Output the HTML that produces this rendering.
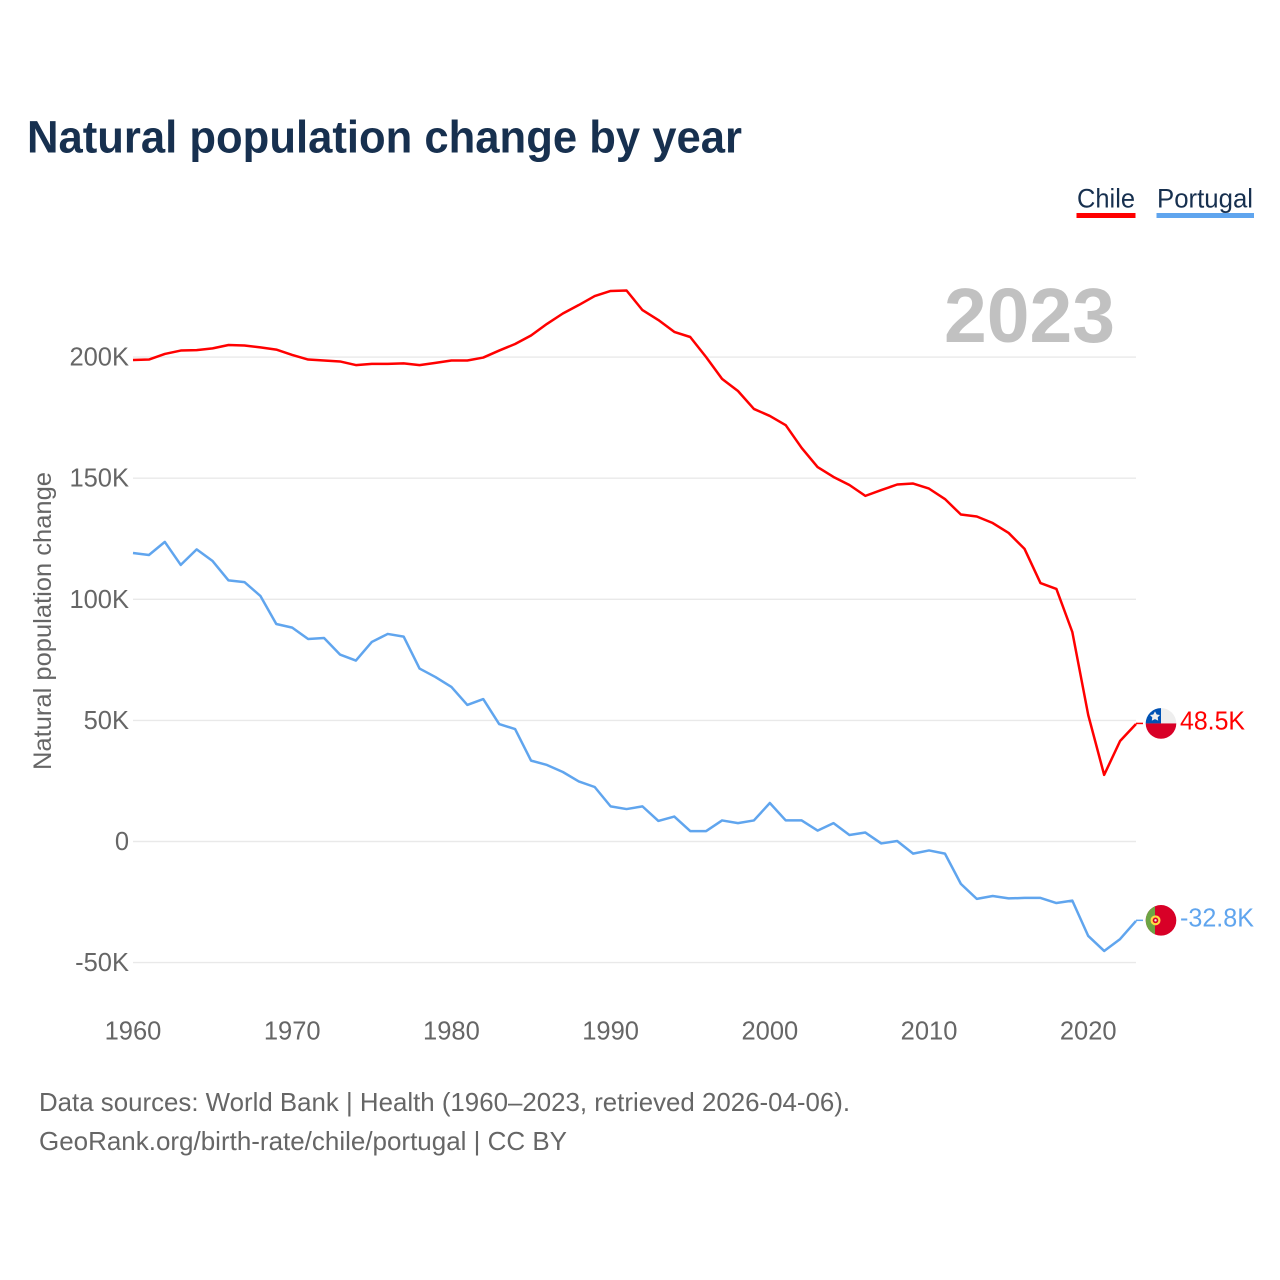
<!DOCTYPE html>
<html lang="en">
<head>
<meta charset="utf-8">
<title>Natural population change by year</title>
<style>
html,body{margin:0;padding:0;background:#fff;}
svg{display:block;font-family:"Liberation Sans",sans-serif;}
</style>
</head>
<body>
<svg id="chart" xmlns="http://www.w3.org/2000/svg" width="1280" height="1280" viewBox="0 0 1280 1280">
  <defs>
    <clipPath id="flag-clip-chile"><circle cx="0" cy="0" r="15.3"></circle></clipPath>
    <clipPath id="flag-clip-portugal"><circle cx="0" cy="0" r="15.3"></circle></clipPath>
  </defs>
  <text x="27" y="152.5" font-size="45" font-weight="700" fill="#17304f" textLength="715" lengthAdjust="spacingAndGlyphs">Natural population change by year</text>

  <g>
    <g>
      <text x="1077" y="207.5" font-size="26.5" fill="#17304f" textLength="58" lengthAdjust="spacingAndGlyphs">Chile</text>
      <rect x="1076.5" y="213" width="59" height="5" fill="#ff0000"></rect>
    </g>
    <g>
      <text x="1157" y="207.5" font-size="26.5" fill="#17304f" textLength="96" lengthAdjust="spacingAndGlyphs">Portugal</text>
      <rect x="1156.5" y="213" width="97.5" height="5" fill="#60a5ee"></rect>
    </g>
  </g>

  <g id="grid"></g>
  <text x="944" y="342" font-size="77" font-weight="700" fill="#c1c1c1" textLength="171" lengthAdjust="spacingAndGlyphs">2023</text>
  <g id="yticks"></g>
  <g id="xticks"></g>
  <text transform="translate(51,770) rotate(-90)" x="0" y="0" font-size="25" fill="#666666" textLength="298" lengthAdjust="spacingAndGlyphs">Natural population change</text>

  <path id="line-chile" fill="none" stroke="#ff0000" stroke-width="2.5" stroke-linejoin="round"></path>
  <path id="line-portugal" fill="none" stroke="#60a5ee" stroke-width="2.5" stroke-linejoin="round"></path>
  <path id="connector-chile" fill="none" stroke="#ff0000" stroke-width="1.5"></path>
  <path id="connector-portugal" fill="none" stroke="#60a5ee" stroke-width="1.5"></path>

  <g id="flag-chile">
    <g clip-path="url(#flag-clip-chile)">
      <rect x="-16" y="-16" width="32" height="16" fill="#eeeeee"></rect>
      <rect x="-16" y="-16" width="16" height="16" fill="#0052b4"></rect>
      <rect x="-16" y="0" width="32" height="16" fill="#d80027"></rect>
      <polygon points="-6,-12 -4.3,-8.9 -1,-8.4 -3.3,-6 -2.8,-2.8 -6,-4.3 -9.2,-2.8 -8.7,-6 -11,-8.4 -7.7,-8.9" fill="#eeeeee"></polygon>
    </g>
  </g>
  <g id="flag-portugal">
    <g clip-path="url(#flag-clip-portugal)">
      <rect x="-16" y="-16" width="32" height="32" fill="#d80027"></rect>
      <rect x="-16" y="-16" width="10" height="32" fill="#6da544"></rect>
      <circle cx="-5.5" cy="0" r="5" fill="#ffda44"></circle>
      <circle cx="-5.5" cy="0" r="2.8" fill="#d80027"></circle>
      <circle cx="-5.5" cy="0" r="1.2" fill="#eeeeee"></circle>
    </g>
  </g>
  <text id="value-chile" x="1180" font-size="25.5" fill="#ff0000" textLength="65" lengthAdjust="spacingAndGlyphs"></text>
  <text id="value-portugal" x="1180" font-size="25.5" fill="#60a5ee" textLength="74" lengthAdjust="spacingAndGlyphs"></text>

  <text x="39" y="1111" font-size="26" fill="#666666" textLength="811" lengthAdjust="spacingAndGlyphs">Data sources: World Bank | Health (1960–2023, retrieved 2026-04-06).</text>
  <text x="39" y="1150" font-size="26" fill="#666666" textLength="528" lengthAdjust="spacingAndGlyphs">GeoRank.org/birth-rate/chile/portugal | CC BY</text>
</svg>
<script>
const startYear = 1960;
const chileValues = [198.8,199.0,201.3,202.7,202.9,203.6,205.0,204.8,204.0,203.1,200.9,199.0,198.6,198.2,196.7,197.2,197.2,197.4,196.7,197.6,198.6,198.6,199.8,202.7,205.4,208.9,213.7,218.0,221.5,225.2,227.3,227.5,219.4,215.3,210.4,208.3,200.0,191.0,186.0,178.6,175.7,171.9,162.5,154.6,150.5,147.2,142.7,145.1,147.4,147.8,145.7,141.4,135.0,134.2,131.5,127.4,120.8,106.7,104.3,86.5,52.2,27.5,41.5,48.5];
const portugalValues = [119.1,118.3,123.7,114.2,120.6,115.8,107.8,107.1,101.4,89.8,88.3,83.6,84.0,77.2,74.7,82.4,85.7,84.6,71.4,67.9,63.8,56.4,58.8,48.5,46.4,33.4,31.6,28.7,24.8,22.5,14.5,13.4,14.5,8.5,10.3,4.3,4.3,8.7,7.6,8.7,15.9,8.7,8.7,4.5,7.6,2.7,3.7,-0.8,0.2,-5.0,-3.7,-5.0,-17.5,-23.7,-22.5,-23.5,-23.3,-23.3,-25.4,-24.4,-39.0,-45.2,-40.3,-32.8];
const yTickValues = [-50,0,50,100,150,200];
const xTickValues = [1960,1970,1980,1990,2000,2010,2020];

const NS = 'http://www.w3.org/2000/svg';
function xScale(year){ return 133 + (year - 1960) * (1136 - 133) / 63; }
function yScale(value){ return 841.5 - value * 2.422; }
function linePath(values){
  return values.map(function(v,i){
    return (i ? 'L' : 'M') + xScale(startYear + i).toFixed(2) + ' ' + yScale(v).toFixed(2);
  }).join(' ');
}
function fmt(v){ return v === 0 ? '0' : v + 'K'; }

const grid = document.getElementById('grid');
const yticks = document.getElementById('yticks');
const xticks = document.getElementById('xticks');

yTickValues.forEach(function(v){
  const line = document.createElementNS(NS,'line');
  
  
  line.setAttribute('x1', 133);
  line.setAttribute('x2', 1136);
  line.setAttribute('y1', yScale(v));
  line.setAttribute('y2', yScale(v));
  line.setAttribute('stroke', '#e9e9e9');
  line.setAttribute('stroke-width', '1.4');
  grid.appendChild(line);

  const t = document.createElementNS(NS,'text');
  
  
  t.setAttribute('x', 129);
  t.setAttribute('y', yScale(v) + 8.5);
  t.setAttribute('text-anchor', 'end');
  t.setAttribute('font-size', '25.5');
  t.setAttribute('fill', '#666666');
  t.textContent = fmt(v);
  yticks.appendChild(t);
});

xTickValues.forEach(function(y){
  const t = document.createElementNS(NS,'text');
  
  
  t.setAttribute('x', xScale(y));
  t.setAttribute('y', 1039.5);
  t.setAttribute('text-anchor', 'middle');
  t.setAttribute('font-size', '25.5');
  t.setAttribute('fill', '#666666');
  t.textContent = y;
  xticks.appendChild(t);
});

function drawSeries(key, values){
  document.getElementById('line-' + key).setAttribute('d', linePath(values));
  const last = values[values.length - 1];
  const ly = yScale(last);
  document.getElementById('connector-' + key).setAttribute('d', 'M1136 ' + (ly - 0.6) + ' L1143 ' + (ly - 0.6));
  document.getElementById('flag-' + key).setAttribute('transform', 'translate(1161,' + (ly - 0.6) + ')');
  const label = document.getElementById('value-' + key);
  label.setAttribute('y', ly + 5.5);
  label.textContent = last.toFixed(1) + 'K';
}
drawSeries('chile', chileValues);
drawSeries('portugal', portugalValues);
</script>
</body>
</html>
